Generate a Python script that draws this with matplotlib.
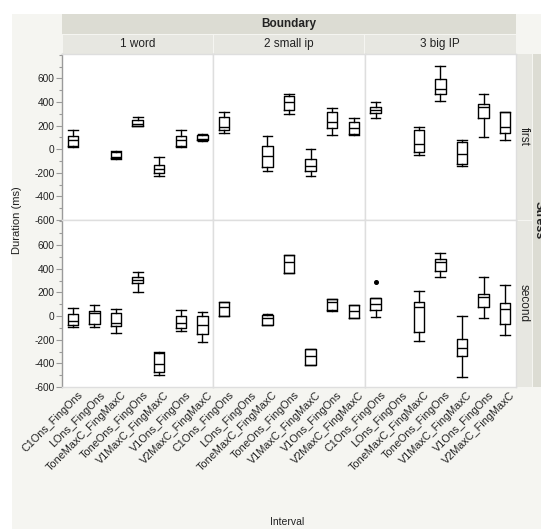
import matplotlib
matplotlib.use("Agg")
import matplotlib.pyplot as plt
from matplotlib.patches import Rectangle
from matplotlib.ticker import MultipleLocator
import matplotlib.transforms as mtransforms

plt.rcParams['font.family'] = ['Liberation Sans', 'DejaVu Sans']

categories = ["C1Ons_FingOns", "LOns_FingOns", "ToneMaxC_FingMaxC", "ToneOns_FingOns",
              "V1MaxC_FingMaxC", "V1Ons_FingOns", "V2MaxC_FingMaxC"]
boundaries = ["1 word", "2 small ip", "3 big IP"]
stresses = ["first", "second"]

# five-number summaries per category: (min, q1, median, q3, max); None = no data
first_1word = [(20, 25, 80, 110, 160), None, (-80, -75, -65, -20, -15), (195, 200, 210, 250, 270),
               (-227, -200, -170, -130, -65), (20, 25, 80, 110, 160), (70, 75, 90, 125, 130)]
first_2small = [(139, 162, 185, 270, 318), None, (-187, -150, -57, 28, 113), (298, 332, 402, 453, 465),
                (-227, -187, -142, -79, 0), (122, 176, 232, 318, 346), (119, 133, 176, 232, 261)]
first_3big = [(261, 304, 332, 355, 403), None, (-45, -23, 48, 162, 190), (411, 468, 511, 596, 709),
              (-142, -122, -43, 62, 82), (105, 261, 355, 383, 468), (77, 142, 185, 318, 318)]
second_1word = [(-96, -77, -40, 17, 71), (-96, -71, 28, 43, 91), (-142, -82, -57, 23, 62),
                (202, 278, 306, 329, 369), (-496, -474, -403, -312, -304), (-125, -105, -57, 3, 51),
                (-219, -153, -77, 0, 37)]
second_2small = [(3, 3, 74, 122, 122), None, (-77, -72, -15, 10, 14), (363, 366, 454, 515, 519),
                 (-417, -417, -338, -275, -275), (45, 48, 117, 140, 145), (-20, -20, 45, 94, 94)]
second_3big = [(-11, 51, 102, 150, 155), None, (-210, -134, 79, 122, 213), (334, 383, 454, 482, 533),
               (-516, -340, -270, -190, 0), (-20, 74, 164, 187, 334), (-162, -68, 57, 108, 264)]
second_3big_outliers = [[287], [], [], [], [], [], []]

panels = {("first", 0): first_1word, ("first", 1): first_2small, ("first", 2): first_3big,
          ("second", 0): second_1word, ("second", 1): second_2small, ("second", 2): second_3big}
outliers = {("second", 2): second_3big_outliers}

W, H = 541, 529
fig = plt.figure(figsize=(W / 100, H / 100), dpi=100, facecolor="white")


def fx(x):
    return x / W


def fy(y):
    return 1 - y / H


def rect(x0, y0, x1, y1, color):
    fig.add_artist(Rectangle((fx(x0), fy(y1)), fx(x1) - fx(x0), fy(y0) - fy(y1),
                             transform=fig.transFigure, facecolor=color, edgecolor="none", zorder=0))


BG = "#f5f5f1"
STRIP = "#e7e7e1"
STRIP2 = "#dcdcd3"
rect(12, 14, W, H, BG)
rect(62, 14, 516, 34, STRIP2)
col_x = [62, 213.3, 364.7, 516]
for i in range(3):
    rect(col_x[i] + 0.5, 34.5, col_x[i + 1] - 0.5, 53.5, STRIP)
    fig.text(fx((col_x[i] + col_x[i + 1]) / 2), fy(44), boundaries[i], ha="center", va="center",
             fontsize=8.5, color="#222222")
fig.text(fx(289), fy(24), "Boundary", ha="center", va="center", fontsize=8.5, fontweight="bold",
         color="#222222")
row_y = [53.5, 220, 387]
for j in range(2):
    rect(516.5, row_y[j] + 0.5, 532, row_y[j + 1] - 0.5, STRIP)
    fig.text(fx(524), fy((row_y[j] + row_y[j + 1]) / 2), stresses[j], rotation=-90, ha="center",
             va="center", fontsize=8.5, color="#222222")
rect(532.5, 53.5, W, 387, STRIP2)
fig.text(fx(539), fy(220), "Stress", rotation=-90, ha="center", va="center", fontsize=9,
         fontweight="bold", color="#222222")

fig.text(fx(17), fy(220), "Duration (ms)", rotation=90, ha="center", va="center", fontsize=8,
         color="#222222")
fig.text(fx(287), fy(522), "Interval", ha="center", va="center", fontsize=7.5, color="#222222")

for j, s in enumerate(stresses):
    for i in range(3):
        x0, x1 = col_x[i], col_x[i + 1]
        y0, y1 = row_y[j], row_y[j + 1]
        ax = fig.add_axes([fx(x0), fy(y1), fx(x1) - fx(x0), fy(y0) - fy(y1)])
        ax.set_facecolor("white")
        data = panels[(s, i)]
        outs = outliers.get((s, i), [[] for _ in categories])
        stats, pos = [], []
        for k, d in enumerate(data):
            if d is None:
                continue
            stats.append(dict(whislo=d[0], q1=d[1], med=d[2], q3=d[3], whishi=d[4], fliers=outs[k]))
            pos.append(k)
        ax.bxp(stats, positions=pos, widths=0.48, capwidths=0.45, showfliers=True,
               boxprops=dict(color="black", linewidth=1.0),
               whiskerprops=dict(color="black", linewidth=1.0),
               capprops=dict(color="black", linewidth=1.0),
               medianprops=dict(color="black", linewidth=1.0),
               flierprops=dict(marker="o", markersize=2.6, markerfacecolor="black",
                               markeredgecolor="black"))
        ax.set_xlim(-0.5, len(categories) - 0.5)
        ax.set_ylim(-600, 812)
        for sp in ax.spines.values():
            sp.set_color("#dedede")
            sp.set_linewidth(1.0)
        ax.yaxis.set_major_locator(MultipleLocator(200))
        ax.yaxis.set_minor_locator(MultipleLocator(100))
        if i == 0:
            ax.spines["left"].set_color("#9a9a9a")
            ax.set_yticks([-600, -400, -200, 0, 200, 400, 600])
            ax.set_yticklabels([str(v) for v in [-600, -400, -200, 0, 200, 400, 600]])
            ax.tick_params(axis="y", which="major", length=4, width=0.8, color="#9a9a9a",
                           labelsize=7.3, labelcolor="#222222", pad=1.5)
            ax.tick_params(axis="y", which="minor", length=2.5, width=0.8, color="#9a9a9a")
        else:
            ax.tick_params(axis="y", which="both", left=False, labelleft=False)
        ax.set_xticks(range(len(categories)))
        ax.tick_params(axis="x", length=0)
        if j == 1:
            ax.set_xticklabels(categories, rotation=45, ha="right", va="top",
                               rotation_mode="anchor", fontsize=7.8, color="#222222")
            ax.tick_params(axis="x", pad=2)
            off = mtransforms.ScaledTranslation(5 / 100, 0, fig.dpi_scale_trans)
            for lab in ax.get_xticklabels():
                lab.set_transform(lab.get_transform() + off)
        else:
            ax.set_xticklabels([])

fig.savefig("out.png", dpi=100, facecolor=fig.get_facecolor())
